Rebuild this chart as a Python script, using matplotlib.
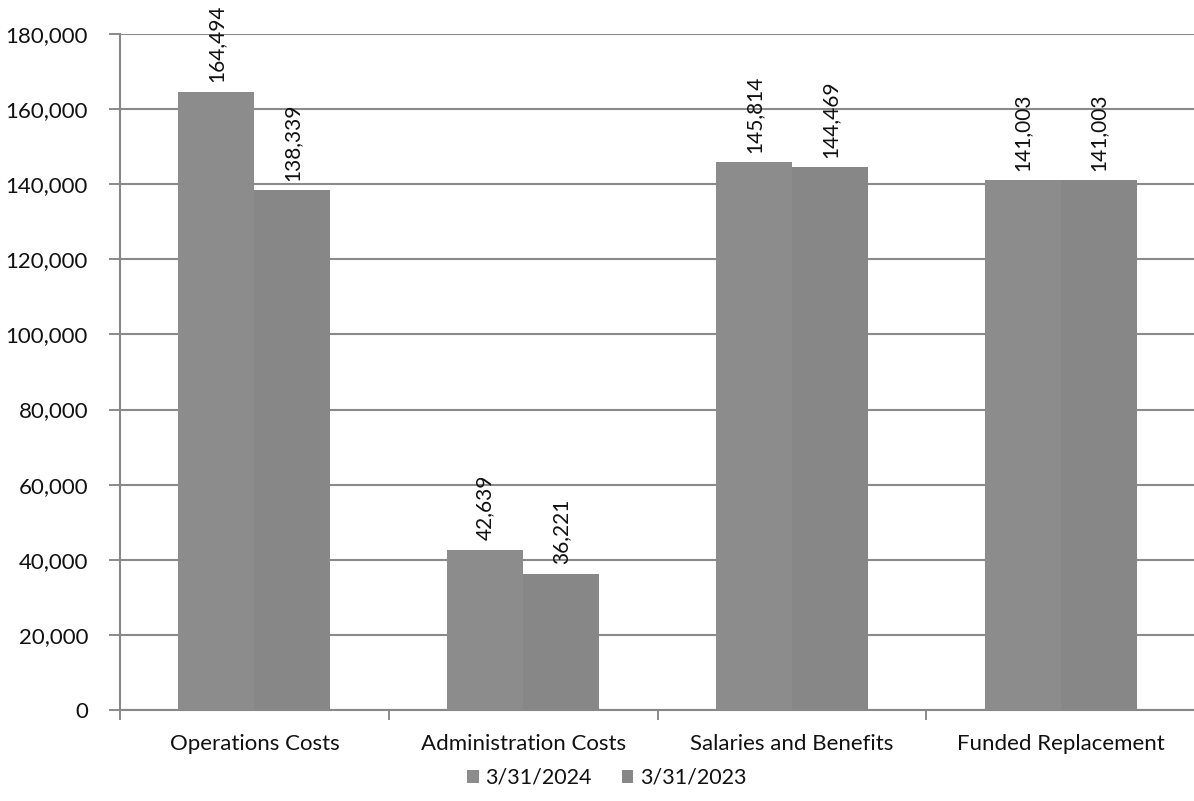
import numpy as np
import matplotlib.pyplot as plt

plt.rcParams['font.family'] = ['Lato', 'DejaVu Sans']

categories = ["Operations Costs", "Administration Costs", "Salaries and Benefits", "Funded Replacement"]
series_names = ["3/31/2024", "3/31/2023"]
values_2024 = [164494, 42639, 145814, 141003]
values_2023 = [138339, 36221, 144469, 141003]
y_ticks = [0, 20000, 40000, 60000, 80000, 100000, 120000, 140000, 160000, 180000]

fig = plt.figure(figsize=(11.94, 8.01), dpi=100)
ax = fig.add_axes([0.1005, 0.1136, 0.9005, 0.844])

x = np.arange(len(categories))
w = 0.283
colors = ["#8c8c8c", "#878787"]

bars_a = ax.bar(x - w / 2, values_2024, w, color=colors[0], label=series_names[0], zorder=3)
bars_b = ax.bar(x + w / 2, values_2023, w, color=colors[1], label=series_names[1], zorder=3)

for bars in (bars_a, bars_b):
    for b in bars:
        h = b.get_height()
        ax.annotate("{:,}".format(int(h)), (b.get_x() + b.get_width() / 2, h),
                    xytext=(0, 7), textcoords="offset points",
                    rotation=90, ha="center", va="bottom", fontsize=15, color="#111111")

ax.set_xlim(-0.5, len(categories) - 0.5)
ax.set_ylim(0, 180000)
ax.set_yticks(y_ticks)
ax.set_yticklabels(["{:,}".format(v) for v in y_ticks], fontsize=16, color="#111111")
ax.yaxis.grid(True, color="#8a8a8a", lw=1.5, zorder=0)

# category labels centred, tick marks on the category boundaries
ax.set_xticks(x)
ax.set_xticklabels(categories, fontsize=16, color="#111111")
ax.tick_params(axis="x", length=0, pad=17)
ax.set_xticks(np.arange(-0.5, len(categories)), minor=True)
ax.tick_params(axis="x", which="minor", length=7, color="#777777", width=1.2)
ax.tick_params(axis="y", length=8, color="#777777", width=1.2, pad=15)

for s in ("top", "right"):
    ax.spines[s].set_visible(False)
for s in ("left", "bottom"):
    ax.spines[s].set_color("#888888")
    ax.spines[s].set_linewidth(1.5)

leg = fig.legend(loc="center", bbox_to_anchor=(0.508, 0.029), ncol=2, frameon=False,
                 fontsize=15.5, handlelength=0.55, handleheight=0.55, handletextpad=0.3,
                 columnspacing=1.4, labelcolor="#111111", borderaxespad=0)

fig.savefig("out.png", dpi=100)
